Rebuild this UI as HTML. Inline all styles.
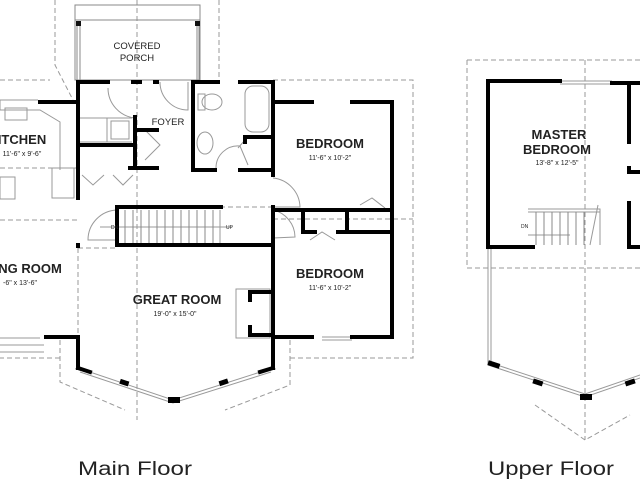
<!DOCTYPE html>
<html><head><style>
html,body{margin:0;padding:0;background:#fff;}
svg{display:block;}
text{font-family:"Liberation Sans",Arial,sans-serif;fill:#222;}
</style></head><body>
<svg width="640" height="480" viewBox="0 0 640 480" xmlns="http://www.w3.org/2000/svg">
<g fill="none" stroke="#999" stroke-width="1" stroke-dasharray="5,3">
  <path d="M55 0 V65 L73 100"/>
  <path d="M219 0 V80"/>
  <path d="M137 0 V420"/>
  <path d="M0 80 H50"/>
  <path d="M273 80 H413 V358 H290"/>
  <path d="M60 358 H0"/>
  <path d="M0 220 H78 M0 168 H78"/>
  <path d="M78 248 V340"/>
  <path d="M60 340 V382 L125 410"/>
  <path d="M290 340 V385 L225 410"/>
  <path d="M220 207 H273 M273 219 H413"/>
  <path d="M78 248 H117"/>
  <path d="M467 60 H640 M467 60 V268 H640"/>
  <path d="M585 60 V440"/>
  <path d="M535 405 L585 440 L630 415"/>
</g>
<g fill="none" stroke="#888" stroke-width="1">
  <rect x="75" y="5" width="125" height="75"/>
  <path d="M75 20 H200 M77 22 V80 M80 22 V80 M197 22 V80 M199 22 V80"/>
</g>
<rect x="76" y="21" width="5" height="5" fill="#111"/>
<rect x="195" y="21" width="5" height="5" fill="#111"/>
<g fill="none" stroke="#999" stroke-width="1">
  <path d="M0 100 H38 M0 110 H40 L60 122 V170 M0 100 V110"/>
  <rect x="5" y="108" width="22" height="12"/>
  <rect x="52" y="168" width="22" height="30"/>
  <rect x="0" y="177" width="15" height="22"/>
  <path d="M0 338 H40 M0 345 H44 M0 352 H44"/>
  <path d="M80 118 H132 M80 142 H132 M107 118 V142"/>
  <rect x="111" y="121" width="18" height="18"/>
  <path d="M108 88 A30 30 0 0 0 135 118 M160 82 A28 28 0 0 0 188 110 V82"/>
  <path d="M145 130 L160 145 L145 160"/>
  <path d="M82 175 L93 185 L104 175 M113 175 L123 185 L133 175"/>
  <ellipse cx="212" cy="102" rx="10" ry="8"/>
  <rect x="198" y="94" width="7" height="16"/>
  <ellipse cx="205" cy="143" rx="8" ry="11"/>
  <rect x="245" y="86" width="24" height="46" rx="8"/>
  <path d="M216 168 A22 22 0 0 1 240 146 L248 165 M238 148 L245 140"/>
  <path d="M273 178 A30 30 0 0 1 300 207 H273"/>
  <path d="M273 210 A28 28 0 0 1 295 237 L273 238"/>
  <path d="M360 205 L372 198 L385 208"/>
  <path d="M310 240 L322 232 L335 240"/>
  <path d="M117 210 A30 30 0 0 0 88 240 H117"/>
  <path d="M117 210 V245 H220 V210"/>
  <path d="M100 227 H232"/>
  <rect x="236" y="289" width="34" height="49"/>
  <path d="M322 337 H352 M322 340 H352"/>
  <path d="M78 368 L173 400 L273 368 M80 372 L173 403 L271 372"/>
  <path d="M560 81 H612 M560 84 H612"/>
  <path d="M528 209 H600 V245 M528 212 H600"/>
  <path d="M528 235 H570"/>
  <path d="M488 247 V365 L585 397 L640 378 M491 247 V363 L585 394 L640 375"/>
  <path d="M598 205 L590 245"/>
</g>
<g stroke="#888" stroke-width="1">
  <path d="M125 210 V245 M133 210 V245 M141 210 V245 M149 210 V245 M157 210 V245 M165 210 V245 M173 210 V245 M181 210 V245 M189 210 V245 M197 210 V245 M205 210 V245 M213 210 V245"/>
  <path d="M536 212 V245 M544 212 V245 M552 212 V245 M560 212 V245 M568 212 V245 M576 212 V245 M584 212 V245"/>
</g>
<g fill="none" stroke="#000" stroke-width="4" stroke-linecap="square">
  <path d="M40 102 H76"/>
  <path d="M78 82 V198"/>
  <path d="M78 82 H108 M133 82 H140 M155 82 H157"/>
  <path d="M193 82 V170 M193 82 H218 M240 82 H273"/>
  <path d="M273 82 V175 M273 102 H312 M352 102 H392 V337"/>
  <path d="M273 337 H312 M352 337 H392"/>
  <path d="M80 145 H133 M135 117 V168 M135 130 H157 M130 168 H157"/>
  <path d="M245 137 H270 M245 137 V142 M193 170 H215 M240 170 H270"/>
  <path d="M117 207 H221 M117 207 V245 H273 V368 M273 207 V245"/>
  <path d="M273 210 H392 M303 210 V232 H315 M338 232 H392 M347 210 V232"/>
  <path d="M46 337 H78 V368 M78 368 L90 372"/>
  <path d="M273 368 L260 372"/>
  <path d="M250 292 H270 M250 335 H270 M250 292 V300 M250 327 V335"/>
  <path d="M488 81 V247 H533 M488 81 H560 M612 83 H640"/>
  <path d="M629 83 V142 M629 168 V172 H640 M629 203 V247 H640"/>
</g>
<g fill="#000">
  <rect x="120" y="380" width="9" height="5" transform="rotate(18 124 382)"/>
  <rect x="219" y="380" width="9" height="5" transform="rotate(-18 223 382)"/>
  <rect x="168" y="397" width="12" height="6"/>
  <rect x="488" y="362" width="12" height="5" transform="rotate(18 494 364)"/>
  <rect x="533" y="380" width="10" height="5" transform="rotate(18 538 382)"/>
  <rect x="580" y="394" width="12" height="6"/>
  <rect x="625" y="380" width="10" height="5" transform="rotate(-18 630 382)"/>
  <rect x="76" y="243" width="4" height="5"/>
</g>
<g text-anchor="middle">
  <text x="137" y="49" font-size="9.5">COVERED</text>
  <text x="137" y="61" font-size="9.5">PORCH</text>
  <text x="168" y="125" font-size="9.5">FOYER</text>
  <text x="22" y="144" font-size="13" font-weight="bold">ITCHEN</text>
  <text x="22" y="156" font-size="7">11'-6" x 9'-6"</text>
  <text x="30" y="273" font-size="13" font-weight="bold">NG ROOM</text>
  <text x="20" y="285" font-size="7">-6" x 13'-6"</text>
  <text x="177" y="304" font-size="13" font-weight="bold">GREAT ROOM</text>
  <text x="175" y="316" font-size="7">19'-0" x 15'-0"</text>
  <text x="330" y="148" font-size="13" font-weight="bold">BEDROOM</text>
  <text x="330" y="160" font-size="7">11'-6" x 10'-2"</text>
  <text x="330" y="278" font-size="13" font-weight="bold">BEDROOM</text>
  <text x="330" y="290" font-size="7">11'-6" x 10'-2"</text>
  <text x="559" y="139" font-size="13" font-weight="bold">MASTER</text>
  <text x="557" y="154" font-size="13" font-weight="bold">BEDROOM</text>
  <text x="557" y="165" font-size="7">13'-8" x 12'-5"</text>
</g>
<text x="78" y="475" font-size="19" textLength="114" lengthAdjust="spacingAndGlyphs">Main Floor</text>
<text x="488" y="475" font-size="19" textLength="126" lengthAdjust="spacingAndGlyphs">Upper Floor</text>
<g font-size="5">
  <text x="111" y="229">DN</text><text x="226" y="229">UP</text><text x="521" y="228">DN</text>
</g>
</svg>
</body></html>
